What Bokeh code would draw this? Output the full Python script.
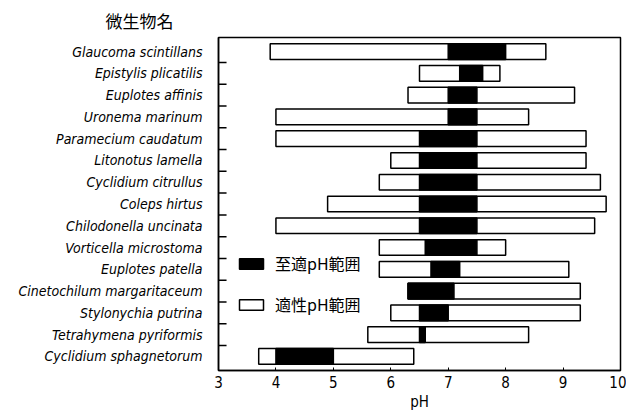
from bokeh.plotting import figure
from bokeh.models import Range1d, FixedTicker, Legend, LegendItem, Title, ColumnDataSource
from bokeh.embed import file_html
from bokeh.resources import INLINE

species = [
    "Glaucoma scintillans", "Epistylis plicatilis", "Euplotes affinis",
    "Uronema marinum", "Paramecium caudatum", "Litonotus lamella",
    "Cyclidium citrullus", "Coleps hirtus", "Chilodonella uncinata",
    "Vorticella microstoma", "Euplotes patella", "Cinetochilum margaritaceum",
    "Stylonychia putrina", "Tetrahymena pyriformis", "Cyclidium sphagnetorum",
]
tol_low = [3.9, 6.5, 6.3, 4.0, 4.0, 6.0, 5.8, 4.9, 4.0, 5.8, 5.8, 6.3, 6.0, 5.6, 3.7]
tol_high = [8.7, 7.9, 9.2, 8.4, 9.4, 9.4, 9.65, 9.75, 9.55, 8.0, 9.1, 9.3, 9.3, 8.4, 6.4]
opt_low = [7.0, 7.2, 7.0, 7.0, 6.5, 6.5, 6.5, 6.5, 6.5, 6.6, 6.7, 6.3, 6.5, 6.5, 4.0]
opt_high = [8.0, 7.6, 7.5, 7.5, 7.5, 7.5, 7.5, 7.5, 7.5, 7.5, 7.2, 7.1, 7.0, 6.6, 5.0]
x_ticks = [3, 4, 5, 6, 7, 8, 9, 10]

FONT = "DejaVu Sans Condensed"
CJK = "Noto Sans CJK JP"

ypos = list(range(len(species)))
src = ColumnDataSource(dict(y=ypos, tl=tol_low, th=tol_high, ol=opt_low, oh=opt_high))

p = figure(width=626, height=414, output_backend="svg", toolbar_location=None,
           x_range=Range1d(3, 10), y_range=Range1d(len(species) - 0.35, -0.65),
           min_border_left=218, min_border_right=6, min_border_top=37, min_border_bottom=44)
p.grid.visible = False
p.outline_line_color = "black"
p.outline_line_width = 1.5
p.background_fill_color = "white"

p.add_layout(Title(text="微生物名", align="left", offset=-113, standoff=9,
                   text_font=CJK, text_font_size="17px", text_font_style="normal",
                   text_color="black"), "above")

r_tol = p.hbar(y="y", left="tl", right="th", height=0.72, source=src,
               fill_color="white", line_color="black", line_width=1.5)
r_opt = p.hbar(y="y", left="ol", right="oh", height=0.72, source=src,
               fill_color="black", line_color="black", line_width=1.5)

# boundary ticks on left axis (inward)
bounds = [i + 0.5 for i in ypos[:-1]]
p.segment(x0=[3] * len(bounds), x1=[3.14] * len(bounds), y0=bounds, y1=bounds,
          line_color="black", line_width=1.5)

xa = p.xaxis[0]
xa.ticker = FixedTicker(ticks=x_ticks)
xa.major_tick_in = 3
xa.major_tick_out = 0
xa.minor_tick_line_color = None
xa.axis_line_width = 1.5
xa.major_label_text_font = FONT
xa.major_label_text_color = "black"
xa.major_label_text_font_size = "15px"
xa.major_label_standoff = 5
xa.axis_label = "pH"
xa.axis_label_text_font = FONT
xa.axis_label_text_color = "black"
xa.axis_label_text_font_style = "normal"
xa.axis_label_text_font_size = "15px"
xa.axis_label_standoff = 2

ya = p.yaxis[0]
ya.ticker = FixedTicker(ticks=ypos)
ya.major_label_overrides = {i: s for i, s in zip(ypos, species)}
ya.major_tick_line_color = None
ya.minor_tick_line_color = None
ya.axis_line_width = 1.5
ya.major_label_standoff = 10
ya.major_label_text_font = FONT
ya.major_label_text_color = "black"
ya.major_label_text_font_style = "italic"
ya.major_label_text_font_size = "14px"

legend = Legend(items=[LegendItem(label="至適pH範囲", renderers=[r_opt]),
                       LegendItem(label="適性pH範囲", renderers=[r_tol])],
                location=(18, 54), orientation="vertical",
                glyph_width=30, glyph_height=13, label_height=13, spacing=17,
                label_standoff=9, padding=0, margin=0,
                border_line_color=None, background_fill_alpha=0,
                label_text_font=CJK, label_text_font_size="16px",
                label_text_color="black")
p.add_layout(legend)

open("out.html", "w").write(file_html(p, INLINE))
